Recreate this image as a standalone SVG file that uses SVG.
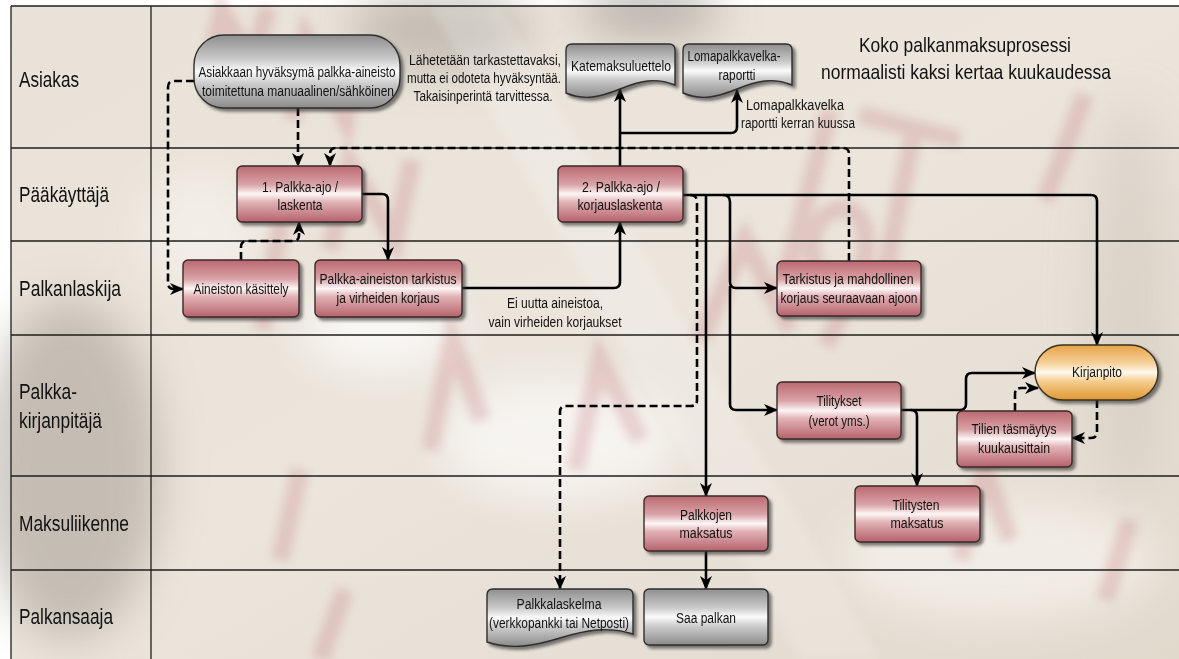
<svg xmlns="http://www.w3.org/2000/svg" width="1179" height="659" viewBox="0 0 1179 659">
  <style>
    text { font-family: "Liberation Sans", Arial, sans-serif; fill: #111; }
    .lane { font-size: 22px; }
    .ttl { font-size: 21px; text-anchor: middle; }
    .nt { font-size: 14px; text-anchor: middle; }
    .lbl { font-size: 14px; text-anchor: middle; }
    .grid { stroke: #1e1e1e; stroke-width: 1.3; fill: none; }
    .red { fill: url(#gRed); stroke: #3a2a2a; stroke-width: 1.4; filter: url(#shadow); }
    .grey { fill: url(#gGrey); stroke: #2e2e2e; stroke-width: 1.4; filter: url(#shadow); }
    .orange { fill: url(#gOrange); stroke: #3a3020; stroke-width: 1.4; filter: url(#shadow); }
    .flow { fill: none; stroke: #000; stroke-width: 2.6; stroke-linejoin: round; marker-end: url(#arrow); }
    .dash { stroke-dasharray: 8 4; }
    .wm { fill: none; stroke: #b8505a; stroke-linecap: butt; stroke-linejoin: miter; stroke-width: 18; }
  </style>
  <defs>
    <linearGradient id="gBase" x1="0" y1="0" x2="1" y2="1">
      <stop offset="0" stop-color="#e9e2d8"/>
      <stop offset="0.5" stop-color="#ebe5dc"/>
      <stop offset="1" stop-color="#e2d9cd"/>
    </linearGradient>
    <linearGradient id="gRed" x1="0" y1="0" x2="0" y2="1">
      <stop offset="0" stop-color="#bb6870"/>
      <stop offset="0.33" stop-color="#d9a3a7"/>
      <stop offset="0.5" stop-color="#fdf6f6"/>
      <stop offset="0.64" stop-color="#e2b3b6"/>
      <stop offset="1" stop-color="#b5616a"/>
    </linearGradient>
    <linearGradient id="gGrey" x1="0" y1="0" x2="0" y2="1">
      <stop offset="0" stop-color="#8e8e8e"/>
      <stop offset="0.33" stop-color="#c9c9c9"/>
      <stop offset="0.5" stop-color="#fbfbfb"/>
      <stop offset="0.66" stop-color="#cdcdcd"/>
      <stop offset="1" stop-color="#8b8b8b"/>
    </linearGradient>
    <linearGradient id="gOrange" x1="0" y1="0" x2="0" y2="1">
      <stop offset="0" stop-color="#e7a347"/>
      <stop offset="0.33" stop-color="#f5d09a"/>
      <stop offset="0.5" stop-color="#fff9ee"/>
      <stop offset="0.66" stop-color="#f4cd8e"/>
      <stop offset="1" stop-color="#e09832"/>
    </linearGradient>
    <filter id="shadow" x="-10%" y="-10%" width="125%" height="135%">
      <feDropShadow dx="3" dy="3" stdDeviation="1.6" flood-color="#2a2a2a" flood-opacity="0.6"/>
    </filter>
    <filter id="soft" x="-20%" y="-20%" width="140%" height="140%">
      <feGaussianBlur stdDeviation="5"/>
    </filter>
    <filter id="haze" x="-30%" y="-30%" width="160%" height="160%">
      <feGaussianBlur stdDeviation="22"/>
    </filter>
    <marker id="arrow" viewBox="0 0 14 12" refX="13" refY="6" markerWidth="14" markerHeight="12" markerUnits="userSpaceOnUse" orient="auto">
      <path d="M0,0 L14,6 L0,12 L4,6 Z" fill="#000"/>
    </marker>
  </defs>

  <!-- backdrop: paper texture with a faded red watermark -->
  <g id="background">
    <rect x="0" y="0" width="1179" height="659" fill="#ffffff"/>
    <rect x="11" y="6" width="1168" height="653" fill="url(#gBase)"/>
    <g filter="url(#haze)">
      <ellipse cx="70" cy="470" rx="90" ry="170" fill="#a59d94" opacity="0.55"/>
      <ellipse cx="440" cy="30" rx="90" ry="40" fill="#9d978f" opacity="0.5"/>
      <ellipse cx="650" cy="10" rx="70" ry="30" fill="#8f8a84" opacity="0.5"/>
      <ellipse cx="380" cy="330" rx="80" ry="40" fill="#ffffff" opacity="0.7"/>
      <ellipse cx="560" cy="440" rx="120" ry="60" fill="#ffffff" opacity="0.6"/>
      <ellipse cx="1000" cy="560" rx="160" ry="60" fill="#f6f3ee" opacity="0.7"/>
      <ellipse cx="1130" cy="300" rx="40" ry="200" fill="#cfc7bc" opacity="0.5"/>
      <ellipse cx="200" cy="230" rx="60" ry="60" fill="#f8f5f0" opacity="0.6"/>
    </g>
    <g opacity="0.2" filter="url(#soft)">
      <path class="wm" d="M205,80 L222,12 L252,62 L268,8"/>
      <path class="wm" d="M292,120 L306,40 L346,120 L360,50"/>
      <path class="wm" d="M330,250 L350,165 L395,240 L412,160"/>
      <path class="wm" d="M262,330 L282,215"/>
      <path class="wm" d="M430,450 L452,340 L482,420"/>
      <path class="wm" d="M575,470 L600,360 L640,440"/>
      <path class="wm" d="M700,340 L745,240 L790,330"/>
      <path class="wm" d="M780,300 L830,110 M860,115 L960,140 M915,125 L880,300"/>
      <path class="wm" d="M845,300 C805,275 800,225 835,210 C870,200 875,255 850,300 L825,345"/>
      <path class="wm" d="M960,560 L985,470 L1010,540"/>
      <path class="wm" d="M280,560 L300,470 M320,659 L345,590"/>
      <path class="wm" d="M1045,200 L1085,95 M1105,600 L1130,520"/>
    </g>
    <polygon points="430,6 500,6 880,659 800,659" fill="#ffffff" opacity="0.18" filter="url(#soft)"/>
  </g>

  <!-- swimlane grid -->
  <g id="lanes">
    <line class="grid" x1="11" y1="6" x2="1179" y2="6"/>
    <line class="grid" x1="11" y1="6" x2="11" y2="659"/>
    <line class="grid" x1="151" y1="6" x2="151" y2="659"/>
    <line class="grid" x1="11" y1="148" x2="1179" y2="148"/>
    <line class="grid" x1="11" y1="241" x2="1179" y2="241"/>
    <line class="grid" x1="11" y1="335" x2="1179" y2="335"/>
    <line class="grid" x1="11" y1="476" x2="1179" y2="476"/>
    <line class="grid" x1="11" y1="570" x2="1179" y2="570"/>
    <text class="lane" x="19" y="87" textLength="60" lengthAdjust="spacingAndGlyphs">Asiakas</text>
    <text class="lane" x="19" y="202" textLength="90" lengthAdjust="spacingAndGlyphs">Pääkäyttäjä</text>
    <text class="lane" x="19" y="296" textLength="102" lengthAdjust="spacingAndGlyphs">Palkanlaskija</text>
    <text class="lane" x="19" y="399" textLength="58" lengthAdjust="spacingAndGlyphs">Palkka-</text>
    <text class="lane" x="19" y="428" textLength="83" lengthAdjust="spacingAndGlyphs">kirjanpitäjä</text>
    <text class="lane" x="19" y="531" textLength="110" lengthAdjust="spacingAndGlyphs">Maksuliikenne</text>
    <text class="lane" x="19" y="624" textLength="94" lengthAdjust="spacingAndGlyphs">Palkansaaja</text>
  </g>

  <g id="title">
    <text class="ttl" x="965" y="52" textLength="212" lengthAdjust="spacingAndGlyphs">Koko palkanmaksuprosessi</text>
    <text class="ttl" x="966" y="79" textLength="290" lengthAdjust="spacingAndGlyphs">normaalisti kaksi kertaa kuukaudessa</text>
  </g>

  <!-- connectors -->
  <g id="connectors">
    <path class="flow dash" d="M194,81 H174 Q168,81 168,87 V283 Q168,289 174,289 H183"/>
    <path class="flow dash" d="M298,108 V166"/>
    <path class="flow dash" d="M849,261 V154 Q849,148 843,148 H336 Q330,148 330,154 V166"/>
    <path class="flow dash" d="M241,260 V247 Q241,241 247,241 H293 Q299,241 299,235 V222"/>
    <path class="flow" d="M362,194 H382 Q388,194 388,200 V260"/>
    <path class="flow" d="M462,288 H614 Q620,288 620,282 V222"/>
    <path class="flow" d="M620,166 V89"/>
    <path class="flow" d="M620,133 H731 Q737,133 737,127 V90"/>
    <path class="flow" d="M683,195 H1091 Q1097,195 1097,201 V345"/>
    <path class="flow dash" d="M690,195 Q697,195 697,202 V400 Q697,406 691,406 H566 Q560,406 560,412 V589"/>
    <path class="flow" d="M706,195 V496"/>
    <path class="flow" d="M723,195 Q730,195 730,202 V282 Q730,288 736,288 H777"/>
    <path class="flow" d="M730,286 V404 Q730,410 736,410 H777"/>
    <path class="flow" d="M706,551 V589"/>
    <path class="flow" d="M901,410 H960 Q966,410 966,404 V379 Q966,373 972,373 H1035"/>
    <path class="flow" d="M911,410 Q917,410 917,416 V486"/>
    <path class="flow dash" d="M1015,411 V394 Q1015,388 1021,388 H1038"/>
    <path class="flow dash" d="M1097,400 V432 Q1097,438 1091,438 H1072"/>
  </g>

  <!-- free labels on the flows -->
  <g id="notes">
    <text class="lbl" x="485" y="65" textLength="152" lengthAdjust="spacingAndGlyphs">Lähetetään tarkastettavaksi,</text>
    <text class="lbl" x="484" y="83" textLength="154" lengthAdjust="spacingAndGlyphs">mutta ei odoteta hyväksyntää.</text>
    <text class="lbl" x="483" y="101" textLength="139" lengthAdjust="spacingAndGlyphs">Takaisinperintä tarvittessa.</text>
    <text class="lbl" x="795" y="110" textLength="98" lengthAdjust="spacingAndGlyphs">Lomapalkkavelka</text>
    <text class="lbl" x="798" y="128" textLength="114" lengthAdjust="spacingAndGlyphs">raportti kerran kuussa</text>
    <text class="lbl" x="555" y="308" textLength="96" lengthAdjust="spacingAndGlyphs">Ei uutta aineistoa,</text>
    <text class="lbl" x="555" y="327" textLength="133" lengthAdjust="spacingAndGlyphs">vain virheiden korjaukset</text>
  </g>

  <g id="aineisto-asiakas">
    <rect class="grey" x="194" y="35" width="206" height="73" rx="30" ry="30"/>
    <text class="nt" x="297" y="77" textLength="197" lengthAdjust="spacingAndGlyphs">Asiakkaan hyväksymä palkka-aineisto</text>
    <text class="nt" x="298" y="96" textLength="192" lengthAdjust="spacingAndGlyphs">toimitettuna manuaalinen/sähköinen</text>
  </g>

  <g id="katemaksuluettelo">
    <path class="grey" d="M572,44 H669 Q675,44 675,50 V85 C655,77 640,81 620,89 S585,101 566,93 V50 Q566,44 572,44 Z"/>
    <text class="nt" x="621" y="71" textLength="100" lengthAdjust="spacingAndGlyphs">Katemaksuluettelo</text>
  </g>

  <g id="lomapalkkavelka-raportti">
    <path class="grey" d="M689,44 H786 Q792,44 792,50 V85 C772,77 757,81 737,89 S702,101 683,93 V50 Q683,44 689,44 Z"/>
    <text class="nt" x="734" y="61" textLength="93" lengthAdjust="spacingAndGlyphs">Lomapalkkavelka-</text>
    <text class="nt" x="737" y="80" textLength="37" lengthAdjust="spacingAndGlyphs">raportti</text>
  </g>

  <g id="palkka-ajo-1">
    <rect class="red" x="237" y="166" width="125" height="56" rx="5"/>
    <text class="nt" x="300" y="192" textLength="76" lengthAdjust="spacingAndGlyphs">1. Palkka-ajo /</text>
    <text class="nt" x="300" y="210" textLength="45" lengthAdjust="spacingAndGlyphs">laskenta</text>
  </g>

  <g id="palkka-ajo-2">
    <rect class="red" x="558" y="166" width="125" height="56" rx="5"/>
    <text class="nt" x="621" y="192" textLength="78" lengthAdjust="spacingAndGlyphs">2. Palkka-ajo /</text>
    <text class="nt" x="620" y="210" textLength="85" lengthAdjust="spacingAndGlyphs">korjauslaskenta</text>
  </g>

  <g id="aineiston-kasittely">
    <rect class="red" x="183" y="260" width="116" height="57" rx="5"/>
    <text class="nt" x="241" y="294" textLength="95" lengthAdjust="spacingAndGlyphs">Aineiston käsittely</text>
  </g>

  <g id="tarkistus-korjaus">
    <rect class="red" x="315" y="260" width="147" height="57" rx="5"/>
    <text class="nt" x="388" y="284" textLength="137" lengthAdjust="spacingAndGlyphs">Palkka-aineiston tarkistus</text>
    <text class="nt" x="388" y="303" textLength="103" lengthAdjust="spacingAndGlyphs">ja virheiden korjaus</text>
  </g>

  <g id="tarkistus-seuraava-ajo">
    <rect class="red" x="777" y="261" width="144" height="55" rx="5"/>
    <text class="nt" x="848" y="284" textLength="131" lengthAdjust="spacingAndGlyphs">Tarkistus ja mahdollinen</text>
    <text class="nt" x="849" y="303" textLength="137" lengthAdjust="spacingAndGlyphs">korjaus seuraavaan ajoon</text>
  </g>

  <g id="kirjanpito">
    <rect class="orange" x="1035" y="345" width="123" height="55" rx="27.5" ry="27.5"/>
    <text class="nt" x="1097" y="377" textLength="50" lengthAdjust="spacingAndGlyphs">Kirjanpito</text>
  </g>

  <g id="tilitykset">
    <rect class="red" x="777" y="382" width="124" height="57" rx="5"/>
    <text class="nt" x="839" y="406" textLength="45" lengthAdjust="spacingAndGlyphs">Tilitykset</text>
    <text class="nt" x="839" y="426" textLength="61" lengthAdjust="spacingAndGlyphs">(verot yms.)</text>
  </g>

  <g id="tilien-tasmaytys">
    <rect class="red" x="957" y="411" width="115" height="56" rx="5"/>
    <text class="nt" x="1014" y="434" textLength="85" lengthAdjust="spacingAndGlyphs">Tilien täsmäytys</text>
    <text class="nt" x="1014" y="453" textLength="72" lengthAdjust="spacingAndGlyphs">kuukausittain</text>
  </g>

  <g id="tilitysten-maksatus">
    <rect class="red" x="855" y="486" width="125" height="56" rx="5"/>
    <text class="nt" x="916" y="510" textLength="47" lengthAdjust="spacingAndGlyphs">Tilitysten</text>
    <text class="nt" x="917" y="528" textLength="53" lengthAdjust="spacingAndGlyphs">maksatus</text>
  </g>

  <g id="palkkojen-maksatus">
    <rect class="red" x="644" y="496" width="124" height="55" rx="5"/>
    <text class="nt" x="706" y="520" textLength="52" lengthAdjust="spacingAndGlyphs">Palkkojen</text>
    <text class="nt" x="706" y="538" textLength="53" lengthAdjust="spacingAndGlyphs">maksatus</text>
  </g>

  <g id="palkkalaskelma">
    <path class="grey" d="M493,589 H627 Q633,589 633,595 V634 C607,626 586,630 560,638 S512,650 487,642 V595 Q487,589 493,589 Z"/>
    <text class="nt" x="559" y="609" textLength="85" lengthAdjust="spacingAndGlyphs">Palkkalaskelma</text>
    <text class="nt" x="559" y="628" textLength="140" lengthAdjust="spacingAndGlyphs">(verkkopankki tai Netposti)</text>
  </g>

  <g id="saa-palkan">
    <rect class="grey" x="644" y="589" width="124" height="56" rx="5"/>
    <text class="nt" x="706" y="623" textLength="60" lengthAdjust="spacingAndGlyphs">Saa palkan</text>
  </g>
</svg>
